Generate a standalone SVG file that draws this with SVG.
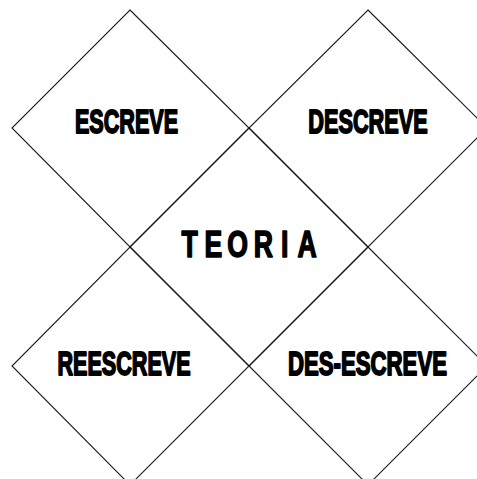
<svg xmlns="http://www.w3.org/2000/svg" width="477" height="479" viewBox="0 0 477 479">
<style>
.d{fill:none;stroke:#1a1a1a;stroke-width:1.1}
.t{font-family:"Liberation Sans",Arial,sans-serif;font-weight:bold;font-size:33px;fill:#000;stroke:#000;stroke-width:1.8;stroke-linejoin:round;text-anchor:middle}
.c{font-size:37px;stroke-width:1.6}
</style>
<rect width="477" height="479" fill="#fff"/>
<g id="escreve">
<polygon class="d" points="130,10 249,128 130,247 12,128"/>
<text class="t" transform="translate(126.5,132.5) scale(0.655,1)">ESCREVE</text>
</g>
<g id="descreve">
<polygon class="d" points="368,10 487,128 368,247 249,128"/>
<text class="t" transform="translate(368,132.5) scale(0.658,1)">DESCREVE</text>
</g>
<g id="teoria">
<polygon class="d" points="249,128 368,247 249,366 130,247"/>
<text class="t c" transform="scale(0.72,1)" y="257.5"><tspan x="263.5">T</tspan><tspan x="296.3">E</tspan><tspan x="329.9">O</tspan><tspan x="365.7">R</tspan><tspan x="395.4">I</tspan><tspan x="426.4">A</tspan></text>
</g>
<g id="reescreve">
<polygon class="d" points="130,247 249,366 130,485 12,366"/>
<text class="t" transform="translate(124,374.5) scale(0.655,1)">REESCREVE</text>
</g>
<g id="des-escreve">
<polygon class="d" points="368,247 487,366 368,485 249,366"/>
<text class="t" transform="translate(367.5,374.5) scale(0.672,1)">DES-ESCREVE</text>
</g>
<g id="connectors"/>
</svg>
